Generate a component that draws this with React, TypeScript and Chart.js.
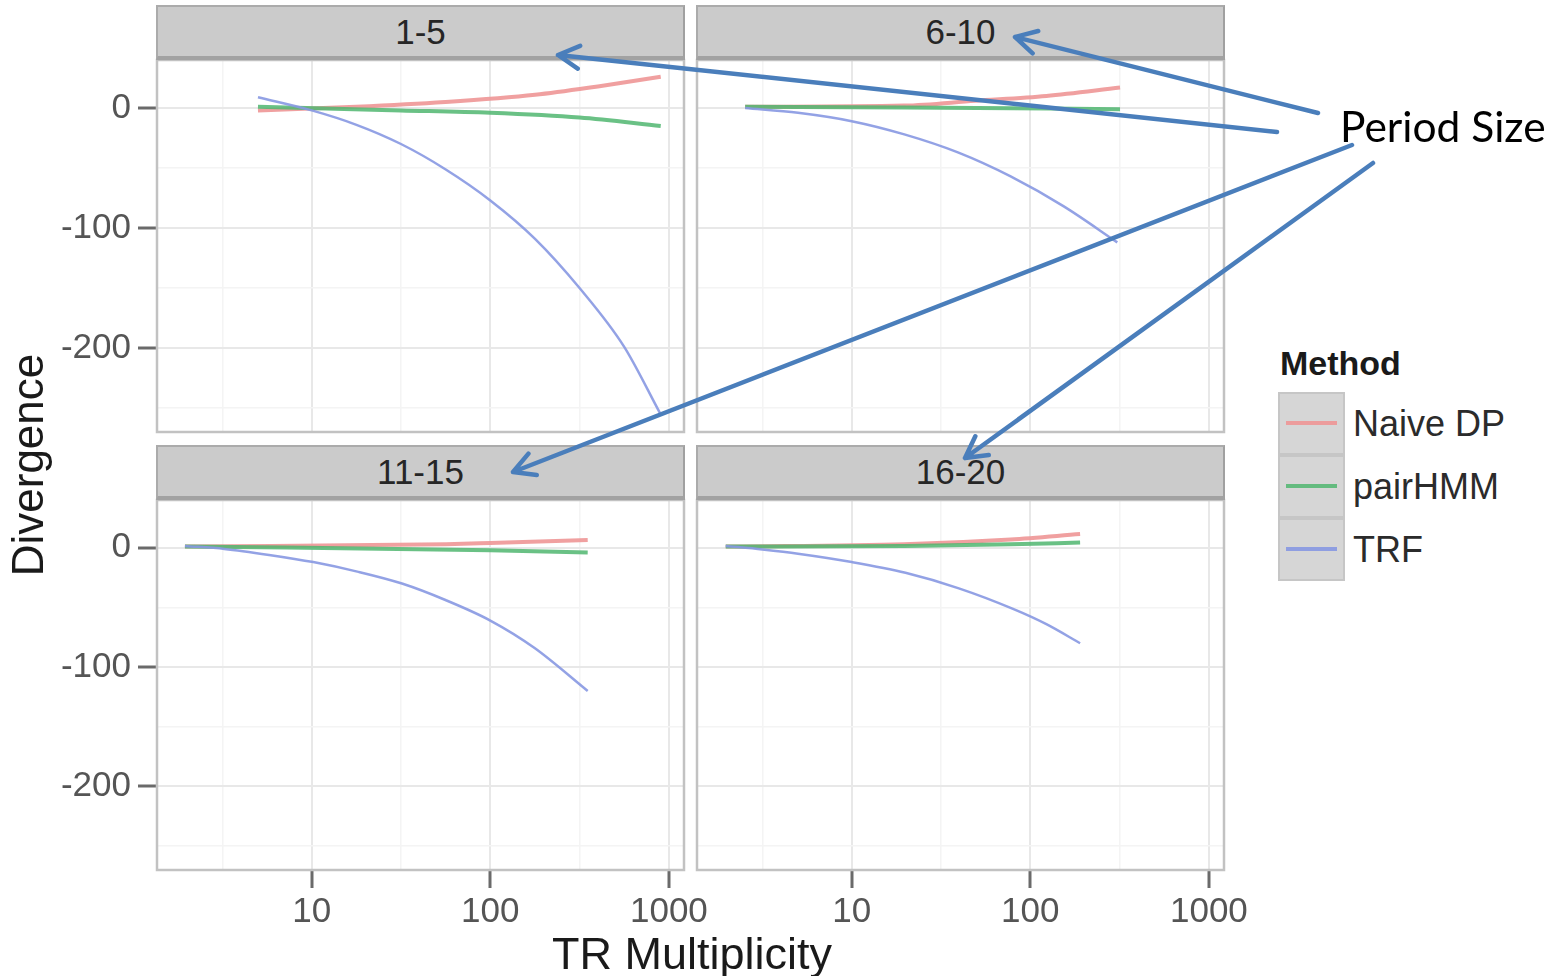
import React, { useEffect, useRef } from "react";
import { Chart, registerables } from "chart.js";
Chart.register(...registerables);

// ---------- data ----------
const methods = ["Naive DP", "pairHMM", "TRF"];
const methodColors = ["rgba(238,150,150,0.9)", "rgba(80,182,112,0.85)", "rgba(135,152,226,0.9)"];
const methodWidths = [4, 4, 2.5];
const panelLabels = ["1-5", "6-10", "11-15", "16-20"];

const yMajorTicks = [-200, -100, 0];
const yMinorTicks = [-250, -150, -50];
const xMajorTicks = [10, 100, 1000];
const xMinorTicks = [3.1623, 31.623, 316.23];

// Period size 1-5
const p1NaiveX = [5, 17.7, 56, 178, 400, 900];
const p1NaiveY = [-2, 1, 5, 11, 18, 26];
const p1PairX = [5, 31.6, 100, 316, 900];
const p1PairY = [1, -2, -4, -8, -15];
const p1TrfX = [5, 10, 17.8, 31.6, 56, 100, 178, 316, 562, 890];
const p1TrfY = [9, -2, -14, -30, -51, -77, -109, -150, -199, -254];

// Period size 6-10
const p2NaiveX = [2.53, 19.7, 49, 123, 318];
const p2NaiveY = [1, 2, 6, 10, 17];
const p2PairX = [2.53, 20, 318];
const p2PairY = [1, 0.5, -1];
const p2TrfX = [2.53, 5, 10, 19.7, 39.3, 77.6, 154, 307];
const p2TrfY = [0, -4, -11, -22, -37, -57, -82, -112];

// Period size 11-15
const p3NaiveX = [1.95, 56.5, 100, 351];
const p3NaiveY = [1, 3, 4, 6.5];
const p3PairX = [1.95, 100, 351];
const p3PairY = [1, -2, -4];
const p3TrfX = [1.95, 3.24, 5.77, 10.2, 18, 32, 56.5, 100, 177, 351];
const p3TrfY = [1.5, -1, -6, -12, -20, -30, -44, -61, -84, -120];

// Period size 16-20
const p4NaiveX = [1.97, 19.7, 77.6, 190];
const p4NaiveY = [1, 3, 7, 11.5];
const p4PairX = [1.97, 19.7, 77.6, 190];
const p4PairY = [1, 1.5, 3, 4.3];
const p4TrfX = [1.97, 3.16, 5, 10, 20, 39.8, 79.4, 123, 190];
const p4TrfY = [1.5, -1.5, -5, -12, -21, -34, -51, -64, -80];

const panelSeries = [
  [[p1NaiveX, p1NaiveY], [p1PairX, p1PairY], [p1TrfX, p1TrfY]],
  [[p2NaiveX, p2NaiveY], [p2PairX, p2PairY], [p2TrfX, p2TrfY]],
  [[p3NaiveX, p3NaiveY], [p3PairX, p3PairY], [p3TrfX, p3TrfY]],
  [[p4NaiveX, p4NaiveY], [p4PairX, p4PairY], [p4TrfX, p4TrfY]],
];

// ---------- layout ----------
const X_MIN = 1.36;
const X_MAX = 1215;
const Y_MIN = -270;
const Y_MAX = 40;

const layoutPanels = [
  { L: 157, T: 60, R: 684, B: 432, cx: 0, cy: 50, cw: 700, ch: 392, showY: true, showX: false },
  { L: 697, T: 60, R: 1224, B: 432, cx: 690, cy: 50, cw: 560, ch: 392, showY: false, showX: false },
  { L: 157, T: 500, R: 684, B: 870, cx: 0, cy: 490, cw: 730, ch: 486, showY: true, showX: true },
  { L: 697, T: 500, R: 1224, B: 870, cx: 690, cy: 490, cw: 580, ch: 486, showY: false, showX: true },
];

const FONT = "'Liberation Sans', Arial, Helvetica, sans-serif";

const arrows = [
  { from: [1277, 132], to: [558, 55] },
  { from: [1318, 113], to: [1015, 37] },
  { from: [1352, 145], to: [513, 472] },
  { from: [1373, 163], to: [965, 458] },
];

const isMajorLog = (v: number) => {
  const l = Math.log10(v);
  return Math.abs(l - Math.round(l)) < 0.01;
};

const panelBorder = {
  id: "panelBorder",
  afterDatasetsDraw(chart: any) {
    const { ctx, chartArea: a } = chart;
    ctx.save();
    ctx.strokeStyle = "#c2c2c2";
    ctx.lineWidth = 2.5;
    ctx.strokeRect(a.left, a.top, a.right - a.left, a.bottom - a.top);
    ctx.restore();
  },
};

function Panel({ idx }: { idx: number }) {
  const ref = useRef<HTMLCanvasElement | null>(null);
  const lp = layoutPanels[idx];
  useEffect(() => {
    if (!ref.current) return;
    const datasets = panelSeries[idx].map((s, m) => ({
      label: methods[m],
      data: s[0].map((x: number, i: number) => ({ x, y: s[1][i] })),
      borderColor: methodColors[m],
      borderWidth: methodWidths[m],
      pointRadius: 0,
      fill: false,
      cubicInterpolationMode: "monotone" as const,
      order: 2 - m,
    }));
    const tickFont = { family: FONT, size: 35 };
    const chart = new Chart(ref.current, {
      type: "line",
      data: { datasets },
      plugins: [panelBorder],
      options: {
        animation: false,
        responsive: false,
        maintainAspectRatio: false,
        layout: {
          padding: {
            left: 0,
            top: lp.T - lp.cy,
            right: lp.cx + lp.cw - lp.R,
            bottom: lp.showX ? 0 : lp.cy + lp.ch - lp.B,
          },
        },
        plugins: { legend: { display: false }, tooltip: { enabled: false } },
        scales: {
          x: {
            type: "logarithmic",
            position: "bottom",
            min: X_MIN,
            max: X_MAX,
            border: { display: false },
            grid: {
              color: (c: any) => (c.tick && isMajorLog(c.tick.value) ? "#e8e8e8" : "#f4f4f4"),
              lineWidth: (c: any) => (c.tick && isMajorLog(c.tick.value) ? 2 : 1.5),
              drawTicks: lp.showX,
              tickLength: 18,
              tickWidth: 3,
              tickColor: (c: any) => (c.tick && isMajorLog(c.tick.value) ? "#6a6a6a" : "rgba(0,0,0,0)"),
            },
            ticks: {
              display: lp.showX,
              autoSkip: false,
              maxRotation: 0,
              padding: 3,
              color: "#555555",
              font: tickFont,
              callback: (v: any) => {
                const val = Number(v);
                const k = xMajorTicks.findIndex((t) => Math.abs(t - val) < 1e-6 * t);
                return k >= 0 ? String(xMajorTicks[k]) : "";
              },
            },
            afterBuildTicks: (s: any) => {
              s.ticks = [...xMinorTicks, ...xMajorTicks].sort((a, b) => a - b).map((v) => ({ value: v }));
            },
            afterFit: (s: any) => {
              s.height = lp.showX ? lp.cy + lp.ch - lp.B : 0;
              s.paddingLeft = 0;
              s.paddingRight = 0;
            },
          } as any,
          y: {
            type: "linear",
            position: "left",
            min: Y_MIN,
            max: Y_MAX,
            border: { display: false },
            grid: {
              color: (c: any) => (c.tick && c.tick.value % 100 === 0 ? "#e8e8e8" : "#f4f4f4"),
              lineWidth: (c: any) => (c.tick && c.tick.value % 100 === 0 ? 2 : 1.5),
              drawTicks: lp.showY,
              tickLength: 19,
              tickWidth: 3,
              tickColor: (c: any) => (c.tick && c.tick.value % 100 === 0 ? "#6a6a6a" : "rgba(0,0,0,0)"),
            },
            ticks: {
              display: lp.showY,
              autoSkip: false,
              padding: 7,
              color: "#555555",
              font: tickFont,
              callback: (v: any) => (yMajorTicks.includes(Number(v)) ? String(v) : ""),
            },
            afterBuildTicks: (s: any) => {
              s.ticks = [...yMinorTicks, ...yMajorTicks].sort((a, b) => a - b).map((v) => ({ value: v }));
            },
            afterFit: (s: any) => {
              s.width = lp.L - lp.cx;
              s.paddingTop = 0;
              s.paddingBottom = 0;
            },
          } as any,
        },
      },
    });
    return () => chart.destroy();
  }, [idx]);
  return (
    <canvas
      ref={ref}
      width={lp.cw}
      height={lp.ch}
      style={{ position: "absolute", left: lp.cx, top: lp.cy, width: lp.cw, height: lp.ch }}
    />
  );
}

function Strip({ idx }: { idx: number }) {
  const lp = layoutPanels[idx];
  return (
    <div
      style={{
        position: "absolute",
        left: lp.L - 1,
        top: lp.T - 55,
        width: lp.R - lp.L + 2,
        height: 55,
        boxSizing: "border-box",
        background: "#cbcbcb",
        borderTop: "2px solid #ababab",
        borderLeft: "2px solid #ababab",
        borderRight: "2px solid #a0a0a0",
        borderBottom: "4px solid #a2a2a2",
        display: "flex",
        alignItems: "center",
        justifyContent: "center",
        fontFamily: FONT,
        fontSize: 35,
        color: "#262626",
      }}
    >
      {panelLabels[idx]}
    </div>
  );
}

function arrowPath(from: number[], to: number[]) {
  const [x1, y1] = from;
  const [x2, y2] = to;
  const ang = Math.atan2(y1 - y2, x1 - x2);
  const len = 24;
  const spread = 0.5;
  const a1 = [x2 + len * Math.cos(ang + spread), y2 + len * Math.sin(ang + spread)];
  const a2 = [x2 + len * Math.cos(ang - spread), y2 + len * Math.sin(ang - spread)];
  return `M${x1},${y1} L${x2},${y2} M${a1[0]},${a1[1]} L${x2},${y2} L${a2[0]},${a2[1]}`;
}

export default function App() {
  return (
    <div
      style={{
        position: "absolute",
        left: 0,
        top: 0,
        width: 1551,
        height: 976,
        background: "#ffffff",
        overflow: "hidden",
      }}
    >
      {layoutPanels.map((_, i) => (
        <Panel key={"p" + i} idx={i} />
      ))}
      {layoutPanels.map((_, i) => (
        <Strip key={"s" + i} idx={i} />
      ))}
      {/* axis titles */}
      <div
        style={{
          position: "absolute",
          left: 392,
          top: 929,
          width: 600,
          height: 50,
          lineHeight: "50px",
          textAlign: "center",
          fontFamily: FONT,
          fontSize: 45,
          color: "#1a1a1a",
        }}
      >
        TR Multiplicity
      </div>
      <div
        style={{
          position: "absolute",
          left: 28 - 200,
          top: 465 - 25,
          width: 400,
          height: 50,
          lineHeight: "50px",
          textAlign: "center",
          fontFamily: FONT,
          fontSize: 44,
          color: "#1a1a1a",
          transform: "rotate(-90deg)",
        }}
      >
        Divergence
      </div>
      {/* legend */}
      <div
        style={{
          position: "absolute",
          left: 1280,
          top: 345,
          height: 36,
          lineHeight: "36px",
          fontFamily: FONT,
          fontSize: 34,
          fontWeight: "bold",
          color: "#1a1a1a",
        }}
      >
        Method
      </div>
      {methods.map((m, i) => (
        <div key={"lg" + i}>
          <div
            style={{
              position: "absolute",
              left: 1278,
              top: 392 + i * 63,
              width: 67,
              height: 63,
              boxSizing: "border-box",
              background: "#d6d6d6",
              border: "2px solid #c6c6c6",
            }}
          >
            <div
              style={{
                position: "absolute",
                left: 6,
                right: 6,
                top: 27,
                height: 4,
                background: methodColors[i],
              }}
            />
          </div>
          <div
            style={{
              position: "absolute",
              left: 1353,
              top: 392 + i * 63,
              height: 63,
              lineHeight: "63px",
              fontFamily: FONT,
              fontSize: 36,
              color: "#2b2b2b",
              whiteSpace: "nowrap",
            }}
          >
            {m}
          </div>
        </div>
      ))}
      {/* annotation */}
      <svg
        width={1551}
        height={976}
        style={{ position: "absolute", left: 0, top: 0, pointerEvents: "none" }}
      >
        {arrows.map((a, i) => (
          <path
            key={"a" + i}
            d={arrowPath(a.from, a.to)}
            stroke="#4a7ebb"
            strokeWidth={4.5}
            fill="none"
            strokeLinecap="round"
            strokeLinejoin="round"
          />
        ))}
        <text x={1340} y={142} fontFamily="Lato, 'Open Sans', sans-serif" fontSize={42.5} fill="#000000">
          Period Size
        </text>
      </svg>
    </div>
  );
}
